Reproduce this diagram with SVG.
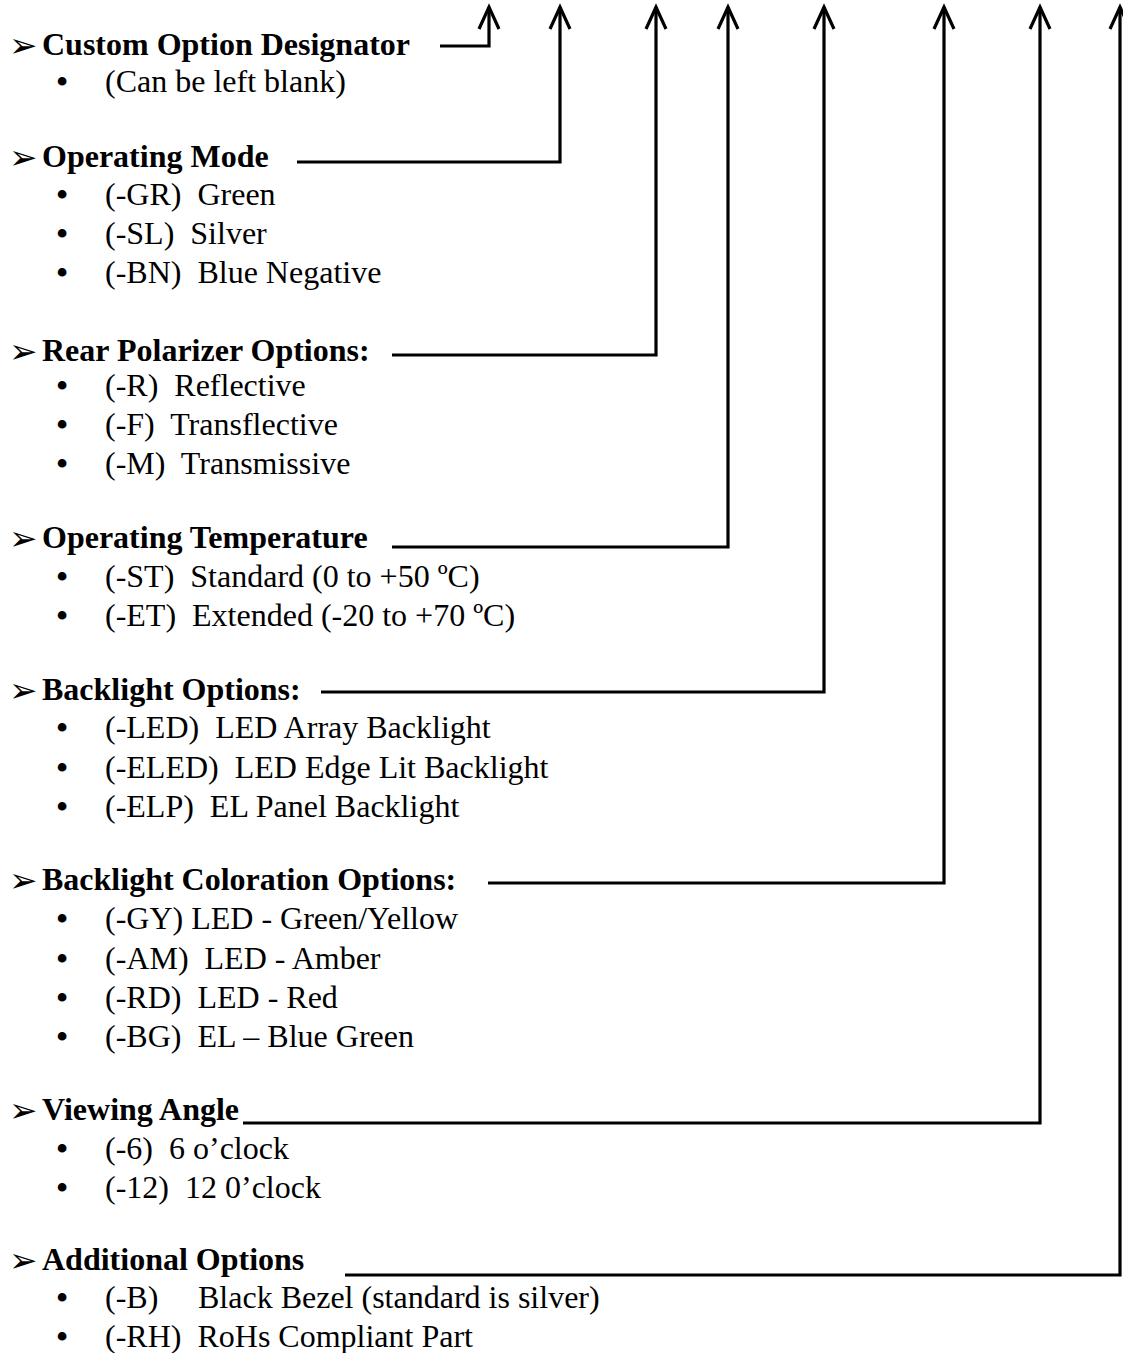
<svg xmlns="http://www.w3.org/2000/svg" width="1123" height="1353" viewBox="0 0 1123 1353">
<style>
text{font-family:"Liberation Serif","Times New Roman",serif;font-size:32px;fill:#000;white-space:pre}
.h{font-weight:bold}
.a{font-family:"DejaVu Sans",sans-serif;font-size:34px}
.b{text-anchor:middle;font-weight:bold}
.c{fill:none;stroke:#000;stroke-width:3.2;stroke-linejoin:miter;marker-end:url(#ar)}
</style>
<defs>
<marker id="ar" markerUnits="userSpaceOnUse" markerWidth="40" markerHeight="40" refX="0" refY="0" orient="auto" overflow="visible">
<path d="M-22,-10 L0,0 L-22,10" fill="none" stroke="#000" stroke-width="3.2" stroke-linejoin="miter"/>
</marker>
</defs>
<rect width="1123" height="1353" fill="#fff"/>
<g id="connectors">
<path class="c" d="M440,46 H489 V7"/>
<path class="c" d="M297,162 H560 V7"/>
<path class="c" d="M392,355 H656 V7"/>
<path class="c" d="M392,547 H728 V7"/>
<path class="c" d="M321,692 H824 V7"/>
<path class="c" d="M488,883 H944 V7"/>
<path class="c" d="M243,1123 H1040 V7"/>
<path class="c" d="M345,1275 H1120 V7"/>
</g>
<g id="custom-option">
<text class="a" x="9" y="57">➢</text>
<text class="h" x="42" y="55">Custom Option Designator</text>
<text class="b" x="62" y="92">•</text><text x="105" y="92">(Can be left blank)</text>
</g>
<g id="operating-mode">
<text class="a" x="9" y="169">➢</text>
<text class="h" x="42" y="167">Operating Mode</text>
<text class="b" x="62" y="205">•</text><text x="105" y="205">(-GR)  Green</text>
<text class="b" x="62" y="244">•</text><text x="105" y="244">(-SL)  Silver</text>
<text class="b" x="62" y="283">•</text><text x="105" y="283">(-BN)  Blue Negative</text>
</g>
<g id="rear-polarizer">
<text class="a" x="9" y="363">➢</text>
<text class="h" x="42" y="361">Rear Polarizer Options:</text>
<text class="b" x="62" y="396">•</text><text x="105" y="396">(-R)  Reflective</text>
<text class="b" x="62" y="435">•</text><text x="105" y="435">(-F)  Transflective</text>
<text class="b" x="62" y="474">•</text><text x="105" y="474">(-M)  Transmissive</text>
</g>
<g id="operating-temperature">
<text class="a" x="9" y="550">➢</text>
<text class="h" x="42" y="548">Operating Temperature</text>
<text class="b" x="62" y="587">•</text><text x="105" y="587">(-ST)  Standard (0 to +50 ºC)</text>
<text class="b" x="62" y="626">•</text><text x="105" y="626">(-ET)  Extended (-20 to +70 ºC)</text>
</g>
<g id="backlight-options">
<text class="a" x="9" y="702">➢</text>
<text class="h" x="42" y="700">Backlight Options:</text>
<text class="b" x="62" y="738">•</text><text x="105" y="738">(-LED)  LED Array Backlight</text>
<text class="b" x="62" y="778">•</text><text x="105" y="778">(-ELED)  LED Edge Lit Backlight</text>
<text class="b" x="62" y="817">•</text><text x="105" y="817">(-ELP)  EL Panel Backlight</text>
</g>
<g id="backlight-coloration">
<text class="a" x="9" y="892">➢</text>
<text class="h" x="42" y="890">Backlight Coloration Options:</text>
<text class="b" x="62" y="929">•</text><text x="105" y="929">(-GY) LED - Green/Yellow</text>
<text class="b" x="62" y="969">•</text><text x="105" y="969">(-AM)  LED - Amber</text>
<text class="b" x="62" y="1008">•</text><text x="105" y="1008">(-RD)  LED - Red</text>
<text class="b" x="62" y="1047">•</text><text x="105" y="1047">(-BG)  EL – Blue Green</text>
</g>
<g id="viewing-angle">
<text class="a" x="9" y="1122">➢</text>
<text class="h" x="42" y="1120">Viewing Angle</text>
<text class="b" x="62" y="1159">•</text><text x="105" y="1159">(-6)  6 o’clock</text>
<text class="b" x="62" y="1198">•</text><text x="105" y="1198">(-12)  12 0’clock</text>
</g>
<g id="additional-options">
<text class="a" x="9" y="1272">➢</text>
<text class="h" x="42" y="1270">Additional Options</text>
<text class="b" x="62" y="1308">•</text><text x="105" y="1308">(-B)<tspan x="198">Black Bezel (standard is silver)</tspan></text>
<text class="b" x="62" y="1347">•</text><text x="105" y="1347">(-RH)  RoHs Compliant Part</text>
</g>
</svg>
